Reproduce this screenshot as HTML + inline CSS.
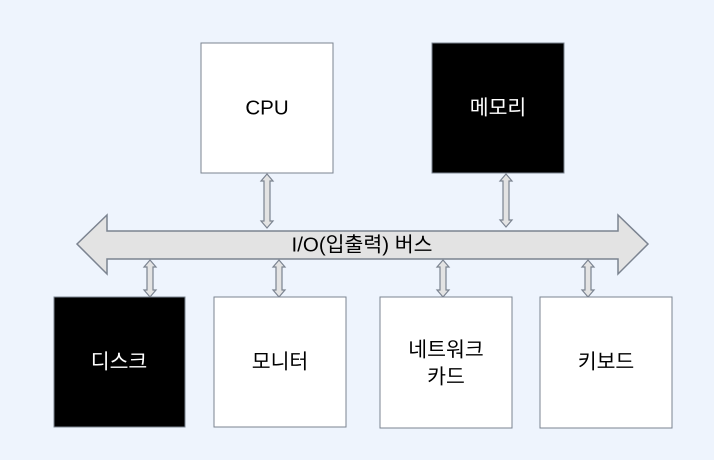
<!DOCTYPE html>
<html><head><meta charset="utf-8"><style>
html,body{margin:0;padding:0;background:#eef4fd;}
svg{display:block}
text{font-family:"Liberation Sans","Noto Sans CJK KR",sans-serif;font-size:20.5px;text-anchor:middle;dominant-baseline:central}
</style></head><body>
<svg width="714" height="460" viewBox="0 0 714 460">
<rect width="714" height="460" fill="#eef4fd"/>
<!-- bus -->
<polygon points="77,244 107,215 107,231 618,231 618,215 648,244 618,274 618,259 107,259 107,274" fill="#e3e3e3" stroke="#7b8390" stroke-width="1.5"/>
<text x="362" y="245">I/O(입출력) 버스</text>
<!-- connectors -->
<g fill="#e3e3e3" stroke="#7b8390" stroke-width="1.2">
<polygon points="267,174 273,181 270,181 270,221 273,221 267,228 261,221 264,221 264,181 261,181"/>
<polygon points="506,174 512,181 509,181 509,220 512,220 506,227 500,220 503,220 503,181 500,181"/>
<polygon points="150,260 156,267 153,267 153,290 156,290 150,297 144,290 147,290 147,267 144,267"/>
<polygon points="279,260 285,267 282,267 282,290 285,290 279,297 273,290 276,290 276,267 273,267"/>
<polygon points="443,260 449,267 446,267 446,290 449,290 443,297 437,290 440,290 440,267 437,267"/>
<polygon points="588,260 594,267 591,267 591,290 594,290 588,297 582,290 585,290 585,267 582,267"/>
</g>
<!-- boxes -->
<rect x="201" y="43" width="132" height="130" fill="#fff" stroke="#7b8390"/>
<text x="267" y="108">CPU</text>
<rect x="432" y="43" width="132" height="130" fill="#000" stroke="#7b8390"/>
<text x="498" y="108" fill="#fff">메모리</text>
<rect x="54" y="297" width="131" height="130" fill="#000" stroke="#7b8390"/>
<text x="119" y="362" fill="#fff">디스크</text>
<rect x="214" y="297" width="132" height="130" fill="#fff" stroke="#7b8390"/>
<text x="280" y="362">모니터</text>
<rect x="380" y="297" width="132" height="131" fill="#fff" stroke="#7b8390"/>
<text x="446" y="350">네트워크</text>
<text x="446" y="377">카드</text>
<rect x="540" y="297" width="132" height="131" fill="#fff" stroke="#7b8390"/>
<text x="606" y="362">키보드</text>
</svg>
</body></html>
